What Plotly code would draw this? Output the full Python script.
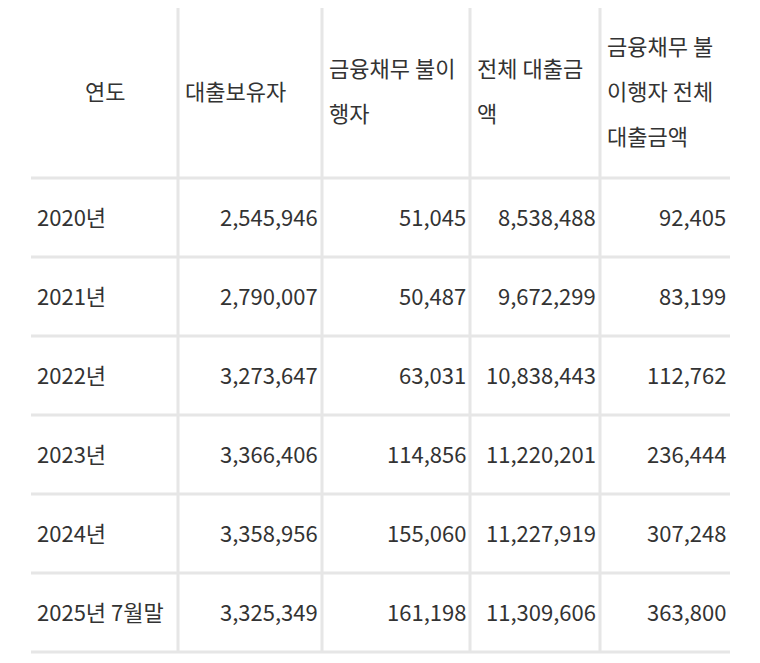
import plotly.graph_objects as go

# table content
headers = [["연도"], ["대출보유자"], ["금융채무 불이", "행자"], ["전체 대출금", "액"],
           ["금융채무 불", "이행자 전체", "대출금액"]]
years = ["2020년", "2021년", "2022년", "2023년", "2024년", "2025년 7월말"]
borrowers = [2545946, 2790007, 3273647, 3366406, 3358956, 3325349]
defaulters = [51045, 50487, 63031, 114856, 155060, 161198]
total_loans = [8538488, 9672299, 10838443, 11220201, 11227919, 11309606]
default_loans = [92405, 83199, 112762, 236444, 307248, 363800]

col_edges = [31, 178, 322, 470, 600, 730]
row_edges = [5, 178, 257, 336, 415, 494, 573, 652]
line_h = 45
font = dict(family="Noto Sans CJK KR", size=22, color="#333333")
grid = "#e6e6e6"

fig = go.Figure()
fig.add_trace(go.Scatter(x=[0], y=[0], mode="markers", opacity=0, hoverinfo="skip", showlegend=False))

for y in row_edges:
    fig.add_shape(type="line", x0=col_edges[0], x1=col_edges[-1], y0=y, y1=y, line=dict(color=grid, width=3))
for x in col_edges[1:-1]:
    fig.add_shape(type="line", x0=x, x1=x, y0=row_edges[0], y1=row_edges[-1], line=dict(color=grid, width=3))

# header
hmid = (row_edges[0] + row_edges[1]) / 2
for c, lines in enumerate(headers):
    y0 = hmid - (len(lines) - 1) * line_h / 2
    for k, t in enumerate(lines):
        if c == 0:
            fig.add_annotation(x=(col_edges[0] + col_edges[1]) / 2, y=y0 + k * line_h, text=t,
                               xanchor="center", showarrow=False, font=font, yshift=2)
        else:
            fig.add_annotation(x=col_edges[c] + 5, y=y0 + k * line_h, text=t,
                               xanchor="left", showarrow=False, font=font, yshift=2)

cols = [borrowers, defaulters, total_loans, default_loans]
for r, yr in enumerate(years):
    ym = (row_edges[r + 1] + row_edges[r + 2]) / 2
    fig.add_annotation(x=col_edges[0] + 4, y=ym, text=yr, xanchor="left", showarrow=False,
                       font=font, yshift=2)
    for c, vals in enumerate(cols):
        fig.add_annotation(x=col_edges[c + 2] - 2, y=ym, text=f"{vals[r]:,}",
                           xanchor="right", showarrow=False, font=font, yshift=2)

# page has an 8px body margin, so shift the ranges to land on the same pixels
fig.update_xaxes(range=[8, 768], visible=False)
fig.update_yaxes(range=[671, 8], visible=False)
fig.update_layout(width=760, height=663, margin=dict(l=0, r=0, t=0, b=0),
                  plot_bgcolor="white", paper_bgcolor="white")
fig.write_html("out.html")
